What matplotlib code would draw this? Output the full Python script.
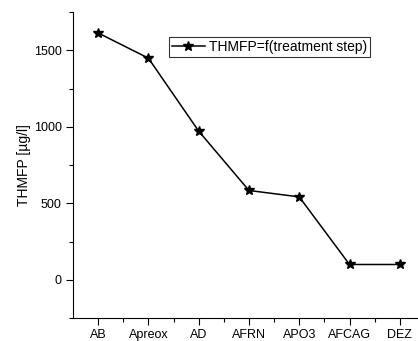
# THMFP along the treatment steps
import matplotlib.pyplot as plt
import numpy as np

plt.rcParams['font.family'] = ['Liberation Sans', 'DejaVu Sans']

# data
steps = ['AB', 'Apreox', 'AD', 'AFRN', 'APO3', 'AFCAG', 'DEZ']
thmfp = [1614, 1449, 972, 584, 542, 100, 100]

x = np.arange(len(steps))

fig = plt.figure(figsize=(4.18, 3.41), dpi=100)
ax = fig.add_axes([0.1746, 0.0674, 0.842, 0.897])

ax.plot(x, thmfp, color='k', linewidth=1.1, marker='*', ms=7,
        label='THMFP=f(treatment step)')

ax.set_xlim(-0.5, 6.5)
ax.set_ylim(-250, 1750)
ax.set_xticks(x)
ax.set_xticklabels(steps)
ax.set_xticks(x[:-1] + 0.5, minor=True)
ax.set_yticks([0, 500, 1000, 1500])
ax.set_yticks([-250, 250, 750, 1250, 1750], minor=True)
ax.tick_params(which='major', direction='out', length=5, width=0.8, labelsize=9, pad=3)
ax.tick_params(which='minor', direction='out', length=3, width=0.8)

ax.spines['top'].set_visible(False)
ax.spines['right'].set_visible(False)

ax.set_ylabel('THMFP [µg/l]', fontsize=10, labelpad=2)

# legend box
leg = ax.legend(loc='upper left', bbox_to_anchor=(0.272, 0.918), fontsize=10,
                frameon=True, fancybox=False, edgecolor='k', handlelength=2.4,
                borderpad=0.22, handletextpad=0.3, borderaxespad=0)
leg.get_frame().set_linewidth(0.8)

plt.savefig('out.png', dpi=100)
